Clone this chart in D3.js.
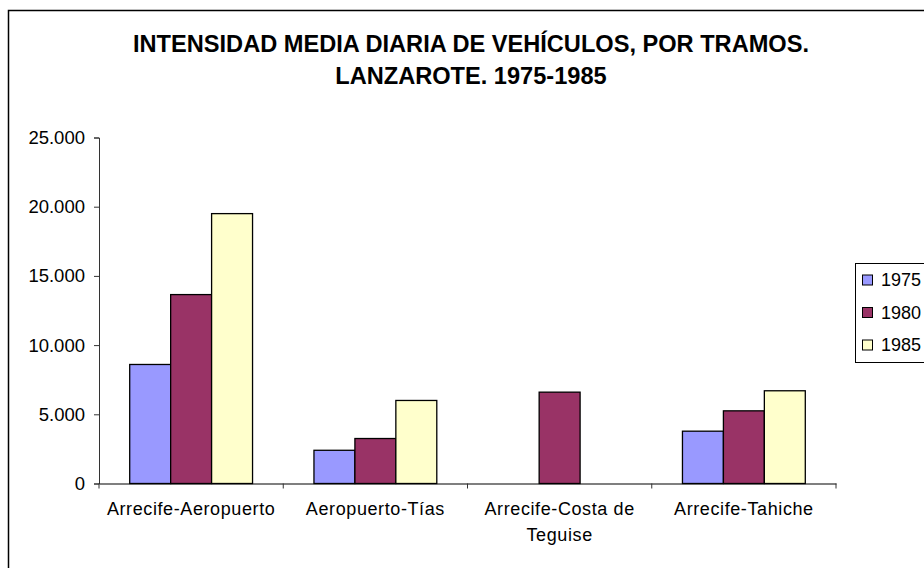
<!DOCTYPE html>
<html>
<head>
<meta charset="utf-8">
<script src="https://cdn.jsdelivr.net/npm/d3@7"></script>
<style>
  html, body { margin: 0; padding: 0; background: #fff; }
  svg { display: block; font-family: Arial, "Liberation Sans", sans-serif; }
</style>
</head>
<body>
<svg id="chart" width="924" height="568"></svg>
<script>
// Tramos de carretera y años medidos
const categories = ["Arrecife-Aeropuerto", "Aeropuerto-Tías", "Arrecife-Costa de Teguise", "Arrecife-Tahiche"];
const years = ["1975", "1980", "1985"];

// Intensidad media diaria (vehículos/día) por año; null = sin dato
const imd1975 = [8600, 2400, null, 3780];
const imd1980 = [13650, 3250, 6600, 5250];
const imd1985 = [19500, 6000, null, 6700];

const yTicks = [0, 5000, 10000, 15000, 20000, 25000];
const titleLines = ["INTENSIDAD MEDIA DIARIA DE VEHÍCULOS, POR TRAMOS.", "LANZAROTE. 1975-1985"];

const colors = ["#9999FF", "#993366", "#FFFFCC"];
const seriesValues = [imd1975, imd1980, imd1985];

const svg = d3.select("#chart");

// Marco del gráfico
svg.append("rect")
  .attr("x", 8.5).attr("y", 10.5)
  .attr("width", 940).attr("height", 580)
  .attr("fill", "#fff").attr("stroke", "#000").attr("stroke-width", 1.5);

// Título
svg.append("text")
  .attr("text-anchor", "middle")
  .attr("font-weight", "bold")
  .attr("font-size", 23.6)
  .selectAll("tspan")
  .data(titleLines)
  .join("tspan")
  .attr("x", 471)
  .attr("y", (d, i) => 52 + i * 32)
  .text(d => d);

// Escalas
const plot = { left: 99, right: 836, top: 137.5, bottom: 483.5 };

const x0 = d3.scaleBand()
  .domain(categories)
  .range([plot.left, plot.right])
  .paddingInner(0).paddingOuter(0);

const x1 = d3.scaleBand()
  .domain(years)
  .range([0, x0.bandwidth()])
  .paddingInner(0).paddingOuter(0.75);

const y = d3.scaleLinear()
  .domain([0, 25000])
  .range([plot.bottom, plot.top]);

const esLocale = d3.formatLocale({ decimal: ",", thousands: ".", grouping: [3], currency: ["", " €"] });
const fmt = esLocale.format(",d");

// Eje Y
const yAxis = svg.append("g")
  .attr("transform", `translate(${plot.left},0)`)
  .call(d3.axisLeft(y).tickValues(yTicks).tickFormat(fmt).tickSize(5).tickPadding(9));
yAxis.select(".domain").attr("stroke", "#333").attr("stroke-width", 1);
yAxis.selectAll(".tick line").attr("stroke", "#333");
yAxis.selectAll(".tick text")
  .attr("font-size", 18.5)
  .attr("font-family", "Arial, 'Liberation Sans', sans-serif")
  .attr("fill", "#000");

// Barras
const rows = categories.map((c, i) => ({
  cat: c,
  vals: years.map((yr, s) => ({ year: yr, value: seriesValues[s][i], color: colors[s] }))
}));

svg.append("g")
  .selectAll("g")
  .data(rows)
  .join("g")
  .attr("transform", d => `translate(${x0(d.cat)},0)`)
  .selectAll("rect")
  .data(d => d.vals.filter(v => v.value != null))
  .join("rect")
  .attr("x", d => x1(d.year))
  .attr("y", d => y(d.value))
  .attr("width", x1.bandwidth())
  .attr("height", d => y(0) - y(d.value))
  .attr("fill", d => d.color)
  .attr("stroke", "#000")
  .attr("stroke-width", 1.3);

// Eje X
const xAxis = svg.append("g")
  .attr("transform", `translate(0,${plot.bottom})`)
  .call(d3.axisBottom(x0).tickSize(0).tickPadding(0).tickFormat(""));
xAxis.select(".domain").attr("stroke", "#000").attr("stroke-width", 1.2);
xAxis.selectAll(".tick").remove();

// Marcas entre categorías
const bounds = categories.map(c => x0(c)).concat([plot.right]);
svg.append("g")
  .selectAll("line")
  .data(bounds)
  .join("line")
  .attr("x1", d => d).attr("x2", d => d)
  .attr("y1", plot.bottom).attr("y2", plot.bottom + 5)
  .attr("stroke", "#333");

// Etiquetas de categoría, con ajuste de línea
function wrapWords(text, maxWidth, measure) {
  const words = text.split(" ");
  const lines = [];
  let line = "";
  words.forEach(w => {
    const test = line ? line + " " + w : w;
    if (measure(test) > maxWidth && line) { lines.push(line); line = w; }
    else line = test;
  });
  if (line) lines.push(line);
  return lines;
}

const probe = svg.append("text")
  .attr("font-size", 18).attr("letter-spacing", "0.6px").attr("visibility", "hidden");
const measure = s => { probe.text(s); return probe.node().getComputedTextLength(); };

const labelG = svg.append("g")
  .attr("font-size", 18)
  .attr("letter-spacing", "0.6px")
  .attr("text-anchor", "middle");

categories.forEach(c => {
  const lines = wrapWords(c, x0.bandwidth() - 10, measure);
  const t = labelG.append("text");
  lines.forEach((ln, i) => {
    t.append("tspan")
      .attr("x", x0(c) + x0.bandwidth() / 2)
      .attr("y", 515 + i * 26)
      .text(ln);
  });
});
probe.remove();

// Leyenda
const legend = svg.append("g");
legend.append("rect")
  .attr("x", 855.5).attr("y", 263.5)
  .attr("width", 90).attr("height", 99)
  .attr("fill", "#fff").attr("stroke", "#000").attr("stroke-width", 1);

const items = legend.selectAll("g.item")
  .data(years)
  .join("g")
  .attr("class", "item")
  .attr("transform", (d, i) => `translate(0,${280 + i * 32.5})`);

items.append("rect")
  .attr("x", 862.5).attr("y", -5)
  .attr("width", 10).attr("height", 10)
  .attr("fill", (d, i) => colors[i])
  .attr("stroke", "#000").attr("stroke-width", 1);

items.append("text")
  .attr("x", 881).attr("y", 6)
  .attr("font-size", 18)
  .text(d => d);
</script>
</body>
</html>
